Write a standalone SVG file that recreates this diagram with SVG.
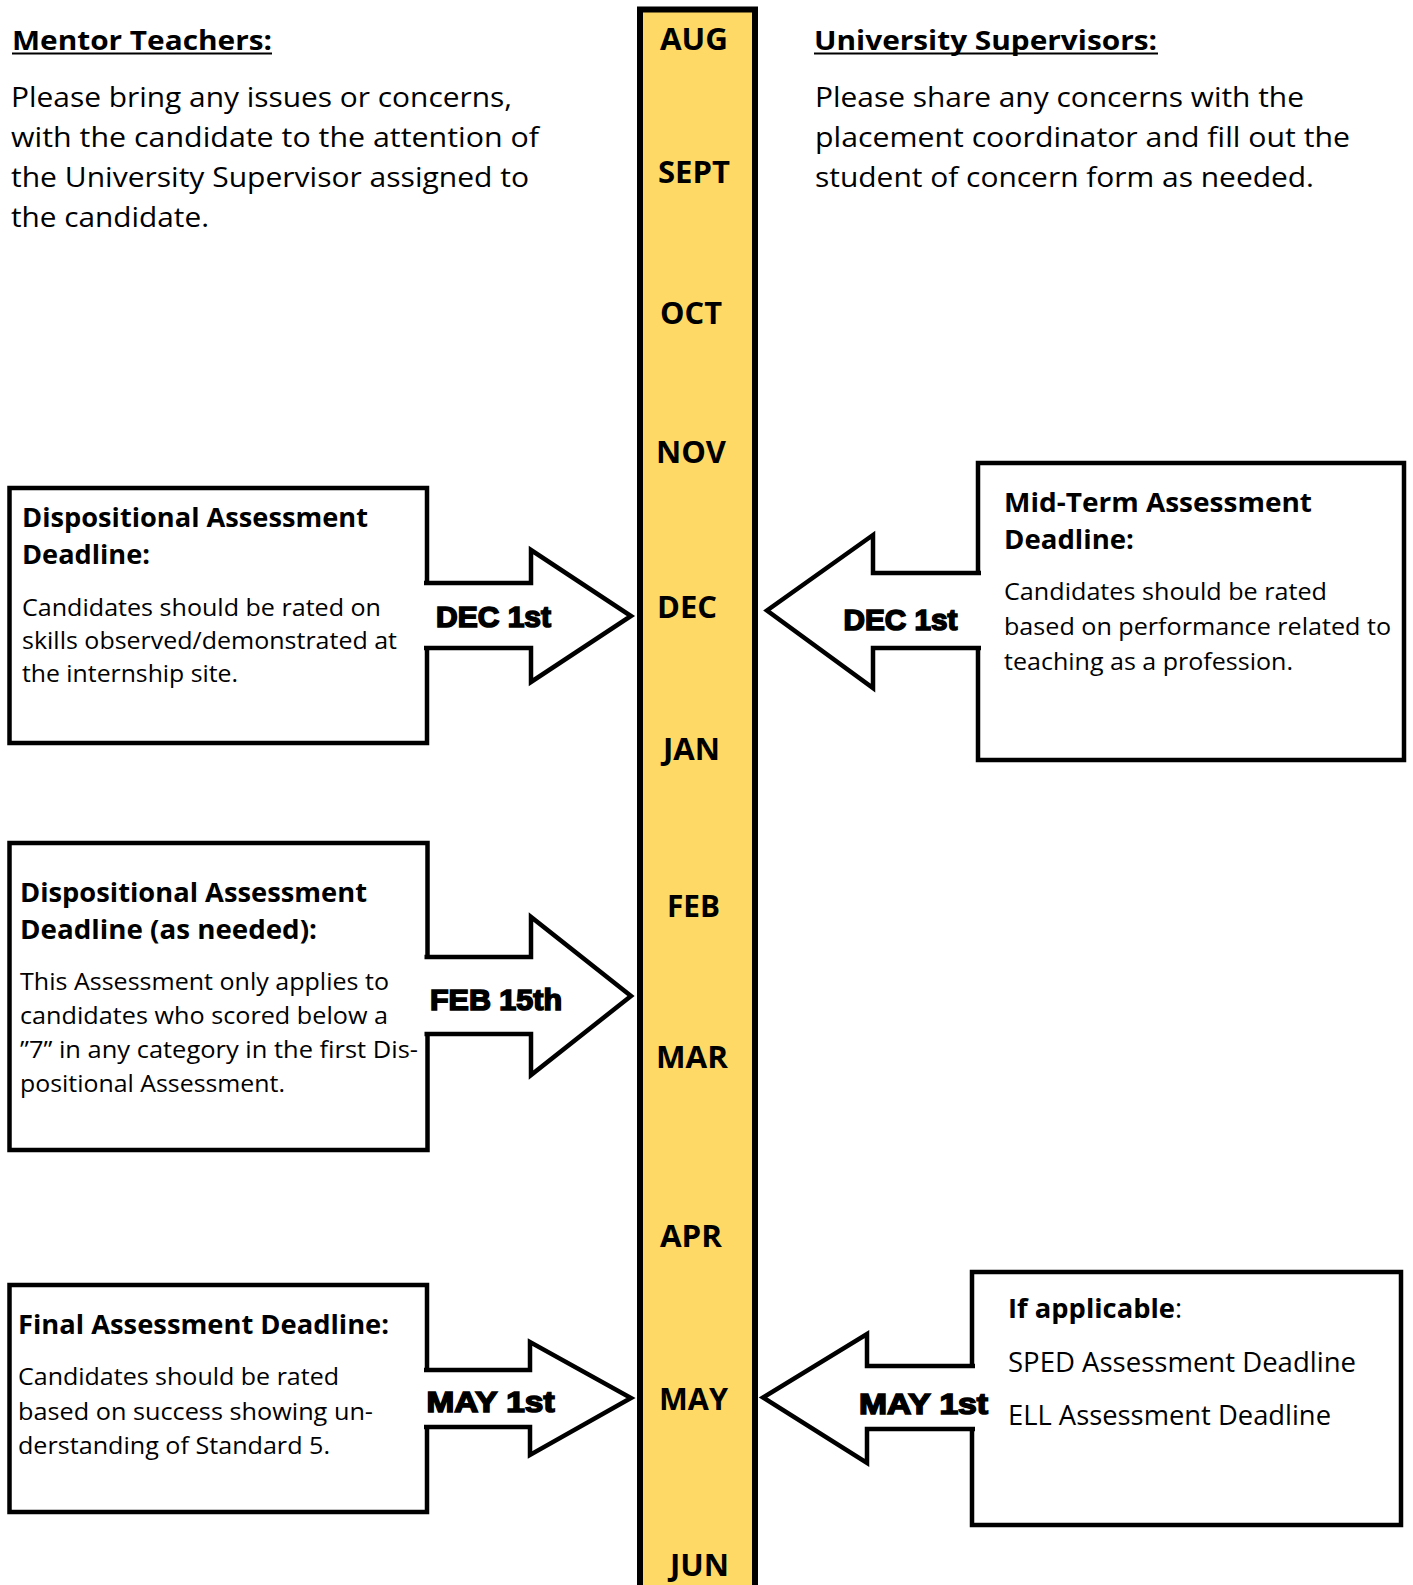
<svg xmlns="http://www.w3.org/2000/svg" width="1413" height="1585" viewBox="0 0 1413 1585">
<style>
text{font-family:"Open Sans","Noto Sans","Liberation Sans",sans-serif;fill:#000}
.t{font-size:28px}
.hd{font-size:26px;font-weight:700}
.bh{font-size:27px;font-weight:700}
.bb{font-size:24px}
.sp{font-size:27px}
.mo{font-size:31px;font-weight:700}
.dt{font-family:"Liberation Sans","Open Sans",sans-serif;font-size:29px;font-weight:900;stroke:#000;stroke-width:1.6}
.box{fill:#fff;stroke:#000;stroke-width:4.5}
.arr{fill:#fff;stroke:#000;stroke-width:4.5;stroke-linejoin:miter;stroke-miterlimit:10}
.ul{stroke:#000;stroke-width:2}
</style>

<g id="timeline">
<rect x="640" y="9.5" width="115" height="1600" fill="#FFD966" stroke="#000" stroke-width="6"/>
<text class="mo" x="660" y="50" textLength="68" lengthAdjust="spacingAndGlyphs">AUG</text>
<text class="mo" x="658" y="183" textLength="72" lengthAdjust="spacingAndGlyphs">SEPT</text>
<text class="mo" x="660" y="324" textLength="62" lengthAdjust="spacingAndGlyphs">OCT</text>
<text class="mo" x="656" y="463" textLength="70" lengthAdjust="spacingAndGlyphs">NOV</text>
<text class="mo" x="657" y="618" textLength="60" lengthAdjust="spacingAndGlyphs">DEC</text>
<text class="mo" x="663" y="760" textLength="57" lengthAdjust="spacingAndGlyphs">JAN</text>
<text class="mo" x="667" y="917" textLength="53" lengthAdjust="spacingAndGlyphs">FEB</text>
<text class="mo" x="656" y="1068" textLength="72" lengthAdjust="spacingAndGlyphs">MAR</text>
<text class="mo" x="660" y="1247" textLength="62" lengthAdjust="spacingAndGlyphs">APR</text>
<text class="mo" x="659" y="1410" textLength="69" lengthAdjust="spacingAndGlyphs">MAY</text>
<text class="mo" x="670" y="1576" textLength="59" lengthAdjust="spacingAndGlyphs">JUN</text>
</g>

<g id="mentor-teachers">
<text class="hd" x="12" y="50" textLength="260" lengthAdjust="spacingAndGlyphs">Mentor Teachers:</text>
<line class="ul" x1="12" y1="53.5" x2="272" y2="53.5"/>
<text class="t" x="11" y="107" textLength="501" lengthAdjust="spacingAndGlyphs">Please bring any issues or concerns,</text>
<text class="t" x="11" y="147" textLength="528" lengthAdjust="spacingAndGlyphs">with the candidate to the attention of</text>
<text class="t" x="11" y="187" textLength="518" lengthAdjust="spacingAndGlyphs">the University Supervisor assigned to</text>
<text class="t" x="11" y="227" textLength="198" lengthAdjust="spacingAndGlyphs">the candidate.</text>
</g>

<g id="university-supervisors">
<text class="hd" x="814" y="50" textLength="343" lengthAdjust="spacingAndGlyphs">University Supervisors:</text>
<line class="ul" x1="814" y1="53.5" x2="1158" y2="53.5"/>
<text class="t" x="815" y="107" textLength="489" lengthAdjust="spacingAndGlyphs">Please share any concerns with the</text>
<text class="t" x="815" y="147" textLength="535" lengthAdjust="spacingAndGlyphs">placement coordinator and fill out the</text>
<text class="t" x="815" y="187" textLength="499" lengthAdjust="spacingAndGlyphs">student of concern form as needed.</text>
</g>

<g id="box-dispositional-dec">
<rect class="box" x="9.5" y="488" width="417.5" height="255"/>
</g>
<g id="box-midterm-dec">
<rect class="box" x="978" y="463" width="426" height="297"/>
</g>
<g id="box-dispositional-feb">
<rect class="box" x="9.5" y="843" width="418" height="307"/>
</g>
<g id="box-final-may">
<rect class="box" x="9.5" y="1285" width="417.5" height="227"/>
</g>
<g id="box-sped-ell-may">
<rect class="box" x="972" y="1272" width="429" height="253"/>
</g>

<g id="connectors">
<path class="arr" d="M424 583 H531 V550 L631 616 L531 682 V648 H424"/>
<path class="arr" d="M981 573 H873 V535 L767 610.5 L873 688 V648 H981"/>
<path class="arr" d="M424.5 957 H531 V917 L631 996 L531 1075 V1034 H424.5"/>
<path class="arr" d="M424 1370 H530 V1342 L631 1398 L530 1455 V1427 H424"/>
<path class="arr" d="M975 1366 H867 V1334 L763 1397.5 L867 1463 V1429 H975"/>
</g>

<g id="text-dispositional-dec">
<text class="bh" x="22" y="527" textLength="346" lengthAdjust="spacingAndGlyphs">Dispositional Assessment</text>
<text class="bh" x="22" y="564" textLength="128" lengthAdjust="spacingAndGlyphs">Deadline:</text>
<text class="bb" x="22" y="615.5" textLength="359" lengthAdjust="spacingAndGlyphs">Candidates should be rated on</text>
<text class="bb" x="22" y="648.5" textLength="375" lengthAdjust="spacingAndGlyphs">skills observed/demonstrated at</text>
<text class="bb" x="22" y="682" textLength="216" lengthAdjust="spacingAndGlyphs">the internship site.</text>
<text class="dt" x="436" y="627" textLength="115" lengthAdjust="spacingAndGlyphs">DEC 1st</text>
</g>

<g id="text-midterm-dec">
<text class="bh" x="1004" y="512" textLength="308" lengthAdjust="spacingAndGlyphs">Mid-Term Assessment</text>
<text class="bh" x="1004" y="548.5" textLength="130" lengthAdjust="spacingAndGlyphs">Deadline:</text>
<text class="bb" x="1004" y="599.5" textLength="323" lengthAdjust="spacingAndGlyphs">Candidates should be rated</text>
<text class="bb" x="1004" y="634.5" textLength="387" lengthAdjust="spacingAndGlyphs">based on performance related to</text>
<text class="bb" x="1004" y="669.5" textLength="289" lengthAdjust="spacingAndGlyphs">teaching as a profession.</text>
<text class="dt" x="843.5" y="630" textLength="114" lengthAdjust="spacingAndGlyphs">DEC 1st</text>
</g>

<g id="text-dispositional-feb">
<text class="bh" x="20" y="901.5" textLength="347" lengthAdjust="spacingAndGlyphs">Dispositional Assessment</text>
<text class="bh" x="20" y="938.5" textLength="297" lengthAdjust="spacingAndGlyphs">Deadline (as needed):</text>
<text class="bb" x="20" y="990" textLength="369" lengthAdjust="spacingAndGlyphs">This Assessment only applies to</text>
<text class="bb" x="20" y="1024" textLength="368" lengthAdjust="spacingAndGlyphs">candidates who scored below a</text>
<text class="bb" x="20" y="1058" textLength="398" lengthAdjust="spacingAndGlyphs">”7” in any category in the first Dis-</text>
<text class="bb" x="20" y="1092" textLength="265" lengthAdjust="spacingAndGlyphs">positional Assessment.</text>
<text class="dt" x="430" y="1010" textLength="132" lengthAdjust="spacingAndGlyphs">FEB 15th</text>
</g>

<g id="text-final-may">
<text class="bh" x="18" y="1334" textLength="371" lengthAdjust="spacingAndGlyphs">Final Assessment Deadline:</text>
<text class="bb" x="18" y="1385" textLength="321" lengthAdjust="spacingAndGlyphs">Candidates should be rated</text>
<text class="bb" x="18" y="1419.5" textLength="355" lengthAdjust="spacingAndGlyphs">based on success showing un-</text>
<text class="bb" x="18" y="1453.5" textLength="312" lengthAdjust="spacingAndGlyphs">derstanding of Standard 5.</text>
<text class="dt" x="426.5" y="1411.5" textLength="128" lengthAdjust="spacingAndGlyphs">MAY 1st</text>
</g>

<g id="text-sped-ell-may">
<text class="sp" x="1008" y="1318"><tspan font-weight="700" textLength="167" lengthAdjust="spacingAndGlyphs">If applicable</tspan><tspan>:</tspan></text>
<text class="sp" x="1008" y="1372" textLength="348" lengthAdjust="spacingAndGlyphs">SPED Assessment Deadline</text>
<text class="sp" x="1008" y="1425" textLength="323" lengthAdjust="spacingAndGlyphs">ELL Assessment Deadline</text>
<text class="dt" x="859" y="1414" textLength="129" lengthAdjust="spacingAndGlyphs">MAY 1st</text>
</g>
</svg>
